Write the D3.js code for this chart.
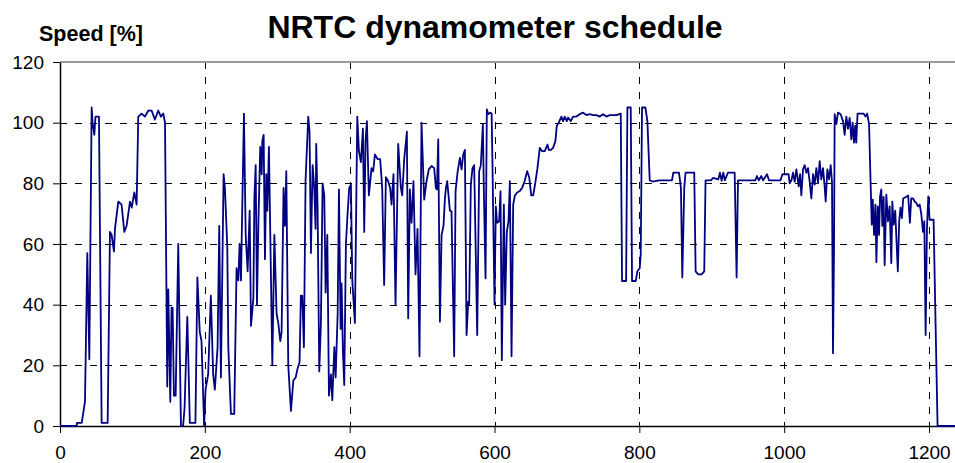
<!DOCTYPE html>
<html>
<head>
<meta charset="utf-8">
<script src="https://cdn.jsdelivr.net/npm/d3@7"></script>
<style>
  body { margin: 0; background: #fff; }
  text { font-family: Arial, "Liberation Sans", sans-serif; }
</style>
</head>
<body>
<div id="chart"></div>
<script>
// time [s] and speed [%]
var time = [
    0, 23, 23.5, 30, 34.5, 37.7, 40.5, 43.7, 45, 47.4, 49, 53.8,
    57.5, 65.8, 69, 71.3, 74.5, 75.9, 80.5, 85, 88.8, 92, 96.6, 99,
    102.6, 105.8, 108.1, 112.7, 117.3, 122, 126.5, 131, 135.7, 139.4, 142.6, 145,
    148.1, 149.5, 152.3, 154, 155.5, 157.3, 159.7, 163.3, 167, 170, 172, 175.8,
    179.3, 187, 189.7, 193, 195.4, 199, 201, 204.6, 208.3, 211.5, 213.8, 217.6,
    219.9, 222.2, 225.9, 227.7, 231, 232.4, 236, 240.6, 243.8, 246.2, 248, 249.9,
    254, 256.4, 259.1, 261.9, 263.7, 267, 268.4, 270.2, 272, 274, 276.5, 278.5,
    279.4, 281.2, 283, 284.8, 286.3, 288.5, 293.2, 296, 299.1, 301.4, 304.2, 306,
    308.7, 310.6, 312.5, 315.2, 318.9, 322.2, 325.4, 328.1, 330.8, 332.6, 334.5, 336.8,
    339.1, 342.8, 344.6, 346.5, 348.8, 351.1, 352.9, 353.8, 355.7, 358, 360.3, 362.6,
    364.9, 366.8, 369.1, 371.4, 374.1, 376, 378.8, 380.6, 383.4, 385.2, 387.5, 388.8,
    390.7, 392.5, 394.8, 397.1, 399.4, 401.7, 403.6, 407.2, 410.5, 412.8, 415.5, 418.3,
    420.1, 421.9, 423.8, 426.5, 430.2, 432.5, 434.8, 438.5, 442.1, 444.9, 447.6, 450,
    453.2, 455.9, 457.8, 460.5, 463.3, 467, 470.7, 472.5, 475.3, 479, 480.8, 483.1,
    485.4, 488.1, 490.9, 493.7, 496.4, 499.2, 502.9, 506.1, 509.3, 513, 516.7, 519,
    520.5, 522.3, 524.6, 526.9, 529.6, 531.5, 532.9, 534.7, 536.1, 538.4, 540.6, 544.3,
    546.2, 548.9, 552.2, 554.5, 556.8, 559.1, 561.4, 563.7, 565, 567.3, 569.6, 571.9,
    573.8, 576.1, 578.8, 581.1, 583.9, 585.3, 587.6, 589.4, 591.3, 594, 596, 597.2,
    600, 601.8, 603.6, 606.4, 608.3, 610.1, 612.9, 614.7, 617, 619.3, 621.2, 623.5,
    625.8, 628.1, 631.3, 635, 638.2, 641.5, 645.1, 647.9, 650.7, 653.4, 656.2, 659.3,
    662.5, 665.7, 669.4, 673.1, 674.9, 677.7, 680.9, 684.1, 686, 688.7, 692.4, 694.7,
    697, 699.8, 701.6, 705.3, 708.5, 713.1, 717.7, 722.3, 726.9, 731.5, 736.1, 740.7,
    745.3, 749.9, 754.5, 759.1, 763.7, 768.3, 774.3, 776.1, 781.7, 783.5, 788.1, 789.9,
    795, 797.3, 800.5, 801.9, 803.7, 808.3, 811.1, 814.3, 818.9, 823.5, 828.1, 845,
    846.9, 854.7, 857.4, 859.3, 862, 863.8, 875.8, 877.7, 881.3, 885.9, 889.6, 891.4,
    898.8, 902, 909, 911.3, 913.6, 915.9, 918, 922.4, 931.6, 934.3, 936.2, 960.1,
    962.4, 965, 968.4, 971, 976.3, 979, 994.8, 997.6, 1006, 1007.6, 1010, 1012.2,
    1014.5, 1016.8, 1020, 1021.9, 1023.7, 1026, 1028.3, 1030.6, 1032.9, 1035.2, 1037.5, 1039.8,
    1042.1, 1044.4, 1046.7, 1049, 1051.3, 1053.6, 1056, 1057.3, 1059.6, 1061.9, 1064.2, 1066,
    1067.4, 1068.8, 1069.7, 1072, 1074.3, 1078, 1081.2, 1083.5, 1085.8, 1088.1, 1090.4, 1092.7,
    1094.5, 1096.4, 1098, 1099.5, 1101.3, 1109.6, 1112.3, 1114.6, 1117.2, 1119.5, 1120.9, 1122.3,
    1124.1, 1126, 1127.3, 1129.2, 1131, 1132.3, 1134.1, 1135.5, 1137.3, 1138.7, 1141, 1143.3,
    1145.6, 1147.9, 1149.3, 1151.1, 1153.3, 1155.1, 1156.9, 1158.8, 1160.6, 1162.5, 1164.3, 1168,
    1171.2, 1173.6, 1175.4, 1178, 1180.2, 1182.5, 1184.8, 1187.1, 1189.4, 1191.7, 1193.5, 1195.3,
    1197.1, 1199, 1200.8, 1206.3, 1209, 1211.8, 1238
];
var speed = [
    0, 0, 1, 1, 8, 57, 22, 105, 100, 96, 102, 102,
    1, 1, 64, 63, 57.5, 65, 74, 73, 64, 66, 74, 72,
    77, 73, 102, 103, 102, 104, 104, 101, 104, 102, 103, 100,
    13, 45, 8, 39, 39, 10, 10, 60, 0, 0, 6, 36,
    1, 1, 49, 31, 28, 0, 12, 17, 43, 17, 12, 26,
    66, 16, 83, 78.5, 59, 26, 4, 4, 52, 48, 60, 48,
    103, 63, 51, 71, 33, 42, 75, 86, 40, 67.5, 92, 83,
    94, 96, 55, 83, 71, 92, 20, 63, 37, 34, 28, 31,
    78.5, 66, 84, 20, 5, 15, 16, 19, 21, 43, 43, 26,
    81, 102, 97, 57, 86, 78.5, 65, 93, 72, 18, 34, 80,
    76, 44, 63, 10, 17, 8.5, 26, 16, 37, 78, 32, 47,
    24.5, 13.5, 60, 70, 78.5, 79.6, 48, 34, 102, 90.6, 87, 98,
    64, 94, 100.5, 76, 85, 84, 89.5, 88, 88, 78.5, 46.5, 82,
    80.7, 78.5, 73, 83, 40, 93, 78.5, 76, 88, 97, 35.5, 78,
    67, 80.7, 50, 65, 23, 100, 74.6, 80.7, 84.6, 85.7, 85, 78.5,
    78, 94.5, 34.4, 63, 66, 75, 78.5, 80.7, 77, 71, 70.8, 23,
    77.4, 83.5, 88.4, 84.6, 89.5, 91, 30, 41, 40, 79.6, 85, 86,
    61, 30, 84, 86, 99.4, 77.4, 48.7, 104.4, 102.8, 103.3, 103, 86,
    40, 72.4, 67, 67.5, 77.4, 21.7, 73, 40, 64, 67.5, 80.7, 23,
    73, 76, 77, 77.5, 78.5, 80.7, 84, 82, 76, 76, 80, 85,
    91.7, 90.6, 90.6, 92.8, 91, 91, 91.7, 94, 99, 100, 102, 100.5,
    102, 100.5, 101.7, 100.5, 102, 102, 102.8, 103.3, 102.5, 102.8, 102.5, 102.5,
    102, 102.8, 102, 102.5, 102.5, 102.5, 103, 47.8, 47.8, 105, 105, 47.8,
    47.8, 51, 52, 56.5, 105, 105, 100.5, 81, 80.6, 80.8, 81, 81,
    83.5, 83.5, 78.5, 49, 78.5, 83.5, 83.5, 51, 50, 50, 51, 81,
    81, 81.8, 81.3, 83.5, 80.8, 83.5, 81, 83.5, 83.5, 49, 81, 81,
    82.4, 81, 82.4, 81, 83, 81, 81, 83, 83, 80, 81, 83.5,
    80.5, 84.6, 79, 83, 76, 84.6, 86, 83.5, 85, 80.5, 75, 83,
    79.6, 85, 80, 87.3, 81.3, 85, 78.5, 74, 84.6, 81.3, 86, 80.5,
    24, 58.6, 102.8, 99.5, 103.3, 102.8, 100.5, 96, 102, 98, 101.6, 94.5,
    100, 93.4, 99, 93.4, 103, 103, 102, 103, 99.5, 78.5, 66.4, 74.6,
    63, 73, 54, 72.4, 63, 75.5, 78, 66, 75.5, 53, 76.3, 67.5,
    72.4, 53.7, 74, 66.4, 71, 61, 51, 67.5, 72, 68.5, 75, 75.5,
    76, 67, 75, 75, 74, 73.5, 72.4, 73, 69.7, 64, 67.5, 30,
    65, 75.7, 68, 68, 34, 0, 0
];
var xTicks = [0, 200, 400, 600, 800, 1000, 1200];
var yTicks = [0, 20, 40, 60, 80, 100, 120];
var chartTitle = "NRTC dynamometer schedule";
var yLabel = "Speed [%]";

var width = 955, height = 463;
var plot = {left: 60, right: 958, top: 62, bottom: 426};

var x = d3.scaleLinear().domain([0, 1240]).range([plot.left, plot.right]);
var y = d3.scaleLinear().domain([0, 120]).range([plot.bottom, plot.top]);

var svg = d3.select("#chart").append("svg")
    .attr("width", width)
    .attr("height", height)
    .style("display", "block");

// dashed grid
svg.append("g").selectAll("line")
    .data(yTicks.filter(function(d){ return d > 0 && d < 120; }))
    .enter().append("line")
    .attr("x1", plot.left).attr("x2", plot.right)
    .attr("y1", function(d){ return Math.round(y(d)) + 0.5; })
    .attr("y2", function(d){ return Math.round(y(d)) + 0.5; })
    .attr("stroke", "#000").attr("stroke-width", 1)
    .attr("stroke-dasharray", "7,8");

svg.append("g").selectAll("line")
    .data(xTicks.filter(function(d){ return d > 0; }))
    .enter().append("line")
    .attr("x1", function(d){ return Math.round(x(d)) + 0.5; })
    .attr("x2", function(d){ return Math.round(x(d)) + 0.5; })
    .attr("y1", plot.top).attr("y2", plot.bottom)
    .attr("stroke", "#000").attr("stroke-width", 1)
    .attr("stroke-dasharray", "7,8");

// top border of plot area
svg.append("line")
    .attr("x1", plot.left).attr("x2", plot.right)
    .attr("y1", plot.top).attr("y2", plot.top)
    .attr("stroke", "#999").attr("stroke-width", 2);

// axes
var yAxis = d3.axisLeft(y).tickValues(yTicks).tickSize(7).tickPadding(9).tickSizeOuter(0);
var xAxis = d3.axisBottom(x).tickValues(xTicks).tickFormat(d3.format("d"))
    .tickSize(7).tickPadding(13).tickSizeOuter(0);

var gy = svg.append("g")
    .attr("transform", "translate(" + plot.left + ",0)")
    .call(yAxis);
var gx = svg.append("g")
    .attr("transform", "translate(0," + plot.bottom + ")")
    .call(xAxis);

[gx, gy].forEach(function(g){
    g.select(".domain").attr("stroke", "#000").attr("stroke-width", 1.5);
    g.selectAll(".tick line").attr("stroke", "#000").attr("stroke-width", 1);
    g.selectAll(".tick text")
        .attr("fill", "#000")
        .style("font-family", "Arial, 'Liberation Sans', sans-serif")
        .style("font-size", "19px");
});

// series
var pts = time.map(function(t, i){ return [t, speed[i]]; });
var line = d3.line()
    .x(function(d){ return x(d[0]); })
    .y(function(d){ return y(d[1]); });

svg.append("path")
    .datum(pts)
    .attr("d", line)
    .attr("fill", "none")
    .attr("stroke", "#000080")
    .attr("stroke-width", 1.8)
    .attr("stroke-linejoin", "round");

// titles
svg.append("text")
    .attr("x", 495).attr("y", 38)
    .attr("text-anchor", "middle")
    .style("font-weight", "bold")
    .style("font-size", "32px")
    .text(chartTitle);

svg.append("text")
    .attr("x", 39).attr("y", 41)
    .style("font-weight", "bold")
    .style("font-size", "21.5px")
    .text(yLabel);
</script>
</body>
</html>
